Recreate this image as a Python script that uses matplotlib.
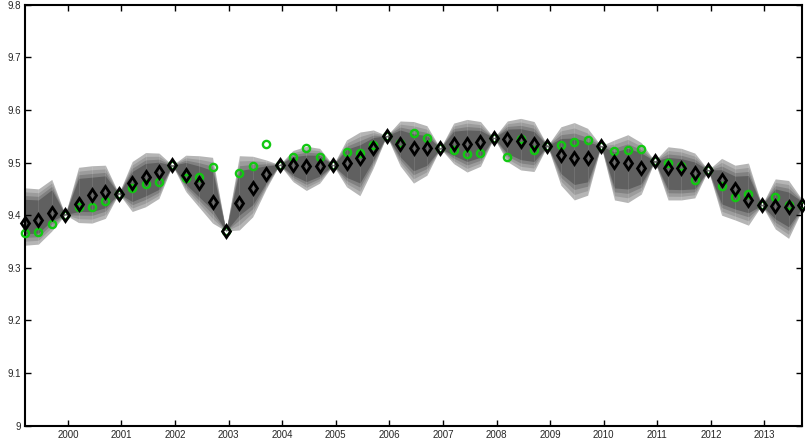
import numpy as np
import matplotlib
matplotlib.use("Agg")
import matplotlib.pyplot as plt

plt.rcParams['font.family'] = ['Liberation Sans', 'DejaVu Sans']

# quarterly time index (59 quarters)
start_time = 1999.2
n_quarters = 59

# black diamonds (point forecast)
diamond = [9.385, 9.391, 9.405, 9.401,
           9.422, 9.439, 9.444, 9.441,
           9.461, 9.473, 9.483, 9.495,
           9.477, 9.461, 9.425, 9.370,
           9.423, 9.452, 9.478, 9.496,
           9.495, 9.494, 9.494, 9.495,
           9.499, 9.509, 9.527, 9.551,
           9.536, 9.528, 9.527, 9.527,
           9.535, 9.536, 9.540, 9.547,
           9.544, 9.541, 9.535, 9.532,
           9.514, 9.508, 9.508, 9.532,
           9.502, 9.499, 9.489, 9.503,
           9.489, 9.489, 9.481, 9.486,
           9.466, 9.450, 9.428, 9.419,
           9.418, 9.415, 9.419]

# green circles (actual)
green = [9.366, 9.368, 9.383, 9.401,
         9.416, 9.415, 9.427, 9.441,
         9.451, 9.459, 9.464, 9.495,
         9.471, 9.473, 9.492, 9.370,
         9.481, 9.4935, 9.535, 9.496,
         9.511, 9.528, 9.510, 9.495,
         9.521, 9.519, 9.533, 9.551,
         9.537, 9.557, 9.546, 9.527,
         9.524, 9.516, 9.519, 9.547,
         9.511, 9.545, 9.523, 9.532,
         9.533, 9.539, 9.543, 9.532,
         9.522, 9.524, 9.525, 9.503,
         9.500, 9.494, 9.466, 9.486,
         9.455, 9.435, 9.441, 9.419,
         9.435, 9.419, 9.419]

# outer fan band
fan_hi = [9.452, 9.450, 9.468, 9.401,
          9.491, 9.494, 9.495, 9.441,
          9.502, 9.519, 9.518, 9.495,
          9.514, 9.513, 9.510, 9.370,
          9.513, 9.512, 9.505, 9.496,
          9.523, 9.531, 9.527, 9.495,
          9.543, 9.558, 9.562, 9.551,
          9.579, 9.578, 9.570, 9.527,
          9.575, 9.582, 9.578, 9.547,
          9.579, 9.584, 9.578, 9.532,
          9.568, 9.576, 9.565, 9.532,
          9.543, 9.553, 9.538, 9.503,
          9.530, 9.527, 9.518, 9.486,
          9.508, 9.495, 9.499, 9.419,
          9.469, 9.466, 9.430]

fan_lo = [9.343, 9.345, 9.370, 9.401,
          9.386, 9.385, 9.394, 9.441,
          9.407, 9.416, 9.432, 9.495,
          9.445, 9.415, 9.385, 9.370,
          9.372, 9.397, 9.450, 9.496,
          9.464, 9.447, 9.461, 9.495,
          9.454, 9.437, 9.490, 9.551,
          9.494, 9.461, 9.476, 9.527,
          9.498, 9.482, 9.493, 9.547,
          9.502, 9.486, 9.483, 9.532,
          9.457, 9.429, 9.438, 9.532,
          9.429, 9.424, 9.440, 9.503,
          9.429, 9.429, 9.433, 9.486,
          9.400, 9.391, 9.381, 9.419,
          9.374, 9.356, 9.410]

year_ticks = list(range(2000, 2014))
y_ticks = [9.0, 9.1, 9.2, 9.3, 9.4, 9.5, 9.6, 9.7, 9.8]
y_tick_labels = ['9', '9.1', '9.2', '9.3', '9.4', '9.5', '9.6', '9.7', '9.8']

t = start_time + 0.25 * np.arange(n_quarters)
d = np.array(diamond)
g = np.array(green)
hi = np.array(fan_hi)
lo = np.array(fan_lo)
mid = (hi + lo) / 2
half = (hi - lo) / 2

fig = plt.figure(figsize=(8.05, 4.40), dpi=100)
ax = fig.add_axes([25 / 805, 14.3 / 440, 777 / 805, 421 / 440])

fracs = [1.0, 0.86, 0.73, 0.6]
cols = ['#b5b5b5', '#9c9c9c', '#818181', '#606060']
for f, c in zip(fracs, cols):
    ax.fill_between(t, mid - half * f, mid + half * f, color=c, lw=0,
                    antialiased=False, zorder=1)

# faint seams at each quarter
mask = half > 0
ax.vlines(t[mask], lo[mask], hi[mask], colors='white', alpha=0.12, lw=0.6, zorder=2)

ax.plot(t, g, 'o', ms=5.2, mfc='none', mec='#12c812', mew=1.7, zorder=3, clip_on=False)
ax.plot(t, d, 'd', ms=6.2, mfc='none', mec='black', mew=2.0, zorder=4, clip_on=False)

ax.set_xlim(t[0], t[-1])
ax.set_ylim(9.0, 9.8)
ax.set_xticks(year_ticks)
ax.set_xticklabels([str(y) for y in year_ticks])
ax.set_yticks(y_ticks)
ax.set_yticklabels(y_tick_labels)
ax.tick_params(direction='in', length=4, width=1, labelsize=7, colors='black',
               labelcolor='#262626', top=True, right=True, pad=3)
for s in ax.spines.values():
    s.set_linewidth(1.5)
    s.set_color('black')

fig.savefig('out.png', dpi=100)
